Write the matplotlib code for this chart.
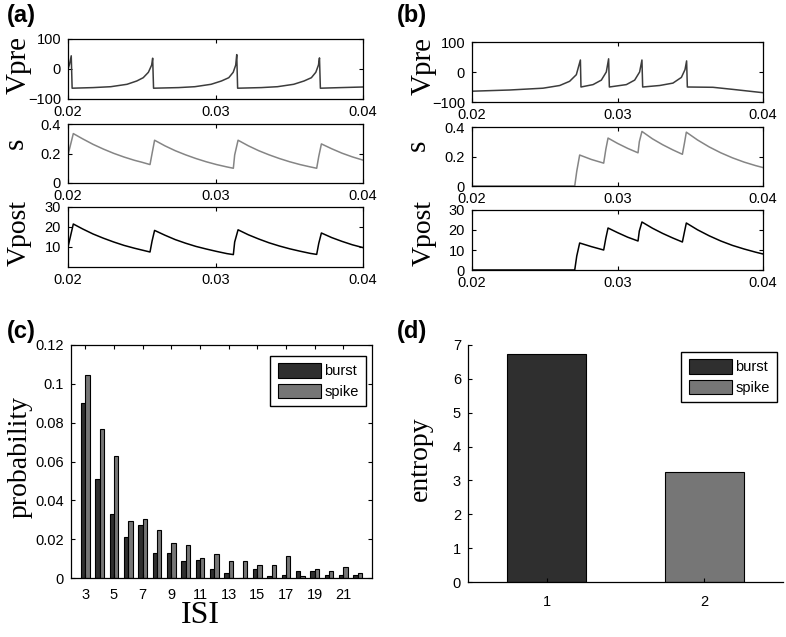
import matplotlib
matplotlib.use('Agg')
import matplotlib.pyplot as plt

W, H = 786, 637
SANS = 'Liberation Sans'
SERIF = 'Liberation Serif'

# (a) tonic spiking: presynaptic voltage, synaptic gating, postsynaptic voltage
a_vpre_t = [0.02000, 0.02010, 0.02022, 0.02028, 0.0217, 0.0229, 0.0240, 0.02466, 0.0251, 0.02545, 0.02567, 0.02574,
            0.02580, 0.0275, 0.0286, 0.0297, 0.0304, 0.0309, 0.0312, 0.03137, 0.03144,
            0.03150, 0.0331, 0.0342, 0.0353, 0.0360, 0.0365, 0.0368, 0.03698, 0.03705,
            0.03711, 0.0385, 0.0400]
a_vpre_v = [0, 15, 44, -64, -62, -59, -51, -40, -29, -11, 13, 36,
            -64, -62, -59, -51, -40, -29, -11, 13, 48,
            -64, -62, -59, -51, -40, -29, -11, 13, 37,
            -64, -62, -60]

a_s_t = [0.02000, 0.02036, 0.0210, 0.0217, 0.0224, 0.0231, 0.0238, 0.0245, 0.0250, 0.02556,
         0.0257, 0.02587, 0.02657, 0.02727, 0.02797, 0.02867, 0.02937, 0.03007, 0.03077, 0.03121,
         0.0313, 0.03153, 0.03223, 0.03293, 0.03363, 0.03433, 0.03503, 0.03573, 0.03643, 0.03686,
         0.0370, 0.03718, 0.03788, 0.03858, 0.03928, 0.0400]
a_s_v = [0.19, 0.335, 0.299, 0.262, 0.230, 0.201, 0.176, 0.154, 0.141, 0.125,
         0.20, 0.29, 0.252, 0.219, 0.191, 0.166, 0.144, 0.125, 0.109, 0.100,
         0.19, 0.29, 0.252, 0.219, 0.191, 0.166, 0.144, 0.125, 0.109, 0.100,
         0.18, 0.265, 0.232, 0.202, 0.177, 0.155]

a_vpost_t = a_s_t
a_vpost_v = [10.0, 21.5, 19.0, 16.5, 14.4, 12.5, 10.8, 9.4, 8.5, 7.5,
             13.0, 18.3, 15.9, 13.7, 11.9, 10.3, 9.0, 7.8, 6.7, 6.2,
             12.5, 18.6, 16.1, 14.0, 12.1, 10.5, 9.1, 7.9, 6.8, 6.3,
             11.8, 17.0, 14.7, 12.8, 11.1, 9.7]

# (b) bursting
b_vpre_t = [0.02000, 0.02259, 0.02488, 0.02603, 0.02671, 0.02717, 0.02745,
            0.02749, 0.02832, 0.02889, 0.02923, 0.02939,
            0.02944, 0.03061, 0.03118, 0.03152, 0.03168,
            0.03173, 0.03290, 0.03381, 0.03439, 0.03464, 0.03475,
            0.03480, 0.03656, 0.03794, 0.04000]
b_vpre_v = [-64, -60, -54, -45, -31, -9, 40,
            -50, -42, -27, 0, 44,
            -50, -42, -27, 0, 40,
            -50, -45, -37, -18, 8, 37,
            -50, -51, -58, -69]

b_s_t = [0.02000, 0.02706, 0.0272, 0.0274, 0.0282, 0.02905, 0.0292, 0.02935,
         0.0300, 0.0307, 0.03141, 0.0315, 0.03168, 0.0324, 0.0331, 0.0338, 0.03446,
         0.0346, 0.03473, 0.0355, 0.0363, 0.0371, 0.0379, 0.0387, 0.0395, 0.0400]
b_s_v = [0.0, 0.0, 0.10, 0.21, 0.18, 0.155, 0.25, 0.325,
         0.289, 0.255, 0.225, 0.30, 0.37, 0.320, 0.280, 0.245, 0.215,
         0.29, 0.365, 0.312, 0.265, 0.225, 0.191, 0.162, 0.138, 0.125]

b_vpost_t = b_s_t
b_vpost_v = [0.0, 0.0, 7.0, 13.5, 11.7, 10.0, 16.0, 21.0,
             18.7, 16.4, 14.5, 19.5, 24.0, 20.9, 18.3, 16.0, 14.0,
             19.0, 23.5, 20.1, 17.1, 14.5, 12.3, 10.5, 8.9, 8.0]

# (c) ISI distributions
isi = list(range(3, 23))
p_burst = [0.090, 0.051, 0.0332, 0.0213, 0.0273, 0.013, 0.013, 0.0087, 0.0095, 0.0045,
           0.0027, 0.0, 0.0044, 0.0009, 0.0017, 0.0034, 0.0034, 0.0017, 0.0017, 0.0017]
p_spike = [0.1045, 0.0765, 0.0628, 0.0292, 0.0302, 0.0248, 0.018, 0.0168, 0.0101, 0.0124,
           0.0088, 0.0088, 0.0067, 0.0067, 0.0113, 0.0012, 0.0045, 0.0034, 0.0057, 0.0024]

# (d) entropy
groups = [1, 2]
entropy = [6.73, 3.25]

c_burst = '#2f2f2f'
c_spike = '#767676'


def rect(x0, y0, x1, y1):
    return [x0 / W, 1 - y1 / H, (x1 - x0) / W, (y1 - y0) / H]


def style_ticks(ax):
    ax.tick_params(direction='in', top=True, right=True, length=3, width=0.8,
                   labelsize=10.5)
    ax.tick_params(axis='x', pad=4)
    ax.tick_params(axis='y', pad=5)
    for lab in ax.get_xticklabels() + ax.get_yticklabels():
        lab.set_fontfamily(SANS)
    for sp in ax.spines.values():
        sp.set_linewidth(0.9)


def trace(fig, box, t, v, color, ylabel, ylim, yticks, yticklabels, lsize, lab_xy):
    ax = fig.add_axes(rect(*box))
    ax.plot(t, v, color=color, linewidth=1.1)
    ax.set_xlim(0.02, 0.04)
    ax.set_ylim(*ylim)
    ax.set_xticks([0.02, 0.03, 0.04])
    ax.set_xticklabels(['0.02', '0.03', '0.04'])
    ax.set_yticks(yticks)
    ax.set_yticklabels(yticklabels)
    style_ticks(ax)
    ax.set_ylabel(ylabel, fontsize=lsize, fontfamily=SERIF)
    ax.yaxis.set_label_coords(*lab_xy)
    return ax


def legend(ax, anchor):
    ax.legend(loc='upper right', bbox_to_anchor=anchor, bbox_transform=ax.figure.transFigure,
              borderaxespad=0, fancybox=False, edgecolor='black', framealpha=1,
              prop={'family': SANS, 'size': 10.5}, handlelength=2.95, handleheight=1.15,
              handletextpad=0.25, labelspacing=0.35, borderpad=0.5)


fig = plt.figure(figsize=(W / 100, H / 100), dpi=100)

vp_ticks = [-100, 0, 100]
vp_labels = ['\u2212100', '0', '100']
s_ticks = [0, 0.2, 0.4]
s_labels = ['0', '0.2', '0.4']

trace(fig, (68, 39, 363, 99), a_vpre_t, a_vpre_v, '#3c3c3c', 'Vpre', (-100, 100),
      vp_ticks, vp_labels, 21, (-0.122, 0.56))
trace(fig, (68, 124, 363, 183), a_s_t, a_s_v, '#858585', 's', (0, 0.4),
      s_ticks, s_labels, 21, (-0.133, 0.68))
trace(fig, (68, 207, 363, 267), a_vpost_t, a_vpost_v, '#000000', 'Vpost', (0, 30),
      [10, 20, 30], ['10', '20', '30'], 20, (-0.122, 0.57))

trace(fig, (472, 42, 763, 102), b_vpre_t, b_vpre_v, '#3c3c3c', 'Vpre', (-100, 100),
      vp_ticks, vp_labels, 21, (-0.12, 0.6))
trace(fig, (472, 127, 763, 186), b_s_t, b_s_v, '#858585', 's', (0, 0.4),
      s_ticks, s_labels, 21, (-0.141, 0.69))
trace(fig, (472, 210, 763, 270), b_vpost_t, b_vpost_v, '#000000', 'Vpost', (0, 30),
      [0, 10, 20, 30], ['0', '10', '20', '30'], 20, (-0.12, 0.62))

# (c)
axc = fig.add_axes(rect(71, 345, 372, 578))
bw = 0.3
axc.bar([x - bw / 2 for x in isi], p_burst, width=bw, color=c_burst, edgecolor='black',
        linewidth=0.8, label='burst')
axc.bar([x + bw / 2 for x in isi], p_spike, width=bw, color=c_spike, edgecolor='black',
        linewidth=0.8, label='spike')
axc.set_xlim(2, 23)
axc.set_ylim(0, 0.12)
axc.set_xticks(list(range(3, 22, 2)))
axc.set_yticks([0, 0.02, 0.04, 0.06, 0.08, 0.1, 0.12])
axc.set_yticklabels(['0', '0.02', '0.04', '0.06', '0.08', '0.1', '0.12'])
style_ticks(axc)
axc.tick_params(axis='x', pad=7)
axc.set_ylabel('probability', fontsize=20, fontfamily=SERIF)
axc.yaxis.set_label_coords(-0.126, 0.52)
axc.set_xlabel('ISI', fontsize=23, fontfamily=SERIF)
axc.xaxis.set_label_coords(0.43, -0.1)
legend(axc, (366 / W, 1 - 356 / H))

# (d)
axd = fig.add_axes(rect(468, 345, 783, 582))
axd.bar(groups[0], entropy[0], width=0.5, color=c_burst, edgecolor='black', linewidth=0.8,
        label='burst')
axd.bar(groups[1], entropy[1], width=0.5, color=c_spike, edgecolor='black', linewidth=0.8,
        label='spike')
axd.set_xlim(0.5, 2.5)
axd.set_ylim(0, 7)
axd.set_xticks(groups)
axd.set_yticks(range(0, 8))
style_ticks(axd)
axd.tick_params(top=False, right=False)
axd.tick_params(axis='x', pad=9)
axd.spines['top'].set_visible(False)
axd.spines['right'].set_visible(False)
axd.set_ylabel('entropy', fontsize=20, fontfamily=SERIF)
axd.yaxis.set_label_coords(-0.111, 0.52)
legend(axd, (777 / W, 1 - 352 / H))

for txt, x, y in [('(a)', 7, 4), ('(b)', 397, 4), ('(c)', 7, 320), ('(d)', 397, 320)]:
    fig.text(x / W, 1 - y / H, txt, ha='left', va='top', fontsize=17, fontweight='bold',
             fontfamily=SANS)

fig.savefig('out.png', dpi=100)
